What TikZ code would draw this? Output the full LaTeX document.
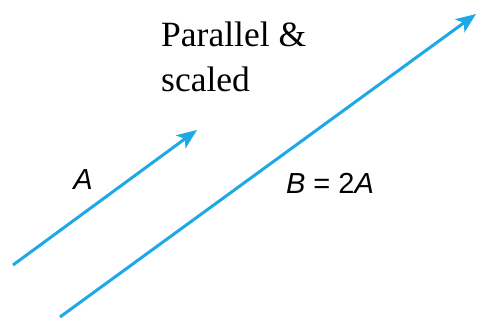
\documentclass[tikz,border=0pt]{standalone}
\usepackage{fontspec}
\setmainfont{Liberation Serif}
\newfontfamily\vecfont{Liberation Sans}
\usetikzlibrary{arrows.meta}
\definecolor{cVec}{HTML}{1DA9E6}
\tikzset{
    x=1pt, y=-1pt,
    vec/.style={-{Stealth[length=20pt, width=16pt, inset=5pt]}, line width=3pt, cVec},
    captxt/.style={font=\fontsize{35.5}{45}\selectfont, inner sep=0pt, anchor=base west},
    veclbl/.style={font=\vecfont\fontsize{29}{34}\selectfont, inner sep=0pt},
}

\begin{document}
\begin{tikzpicture}
    \useasboundingbox (0,0) rectangle (477,321);

    \coordinate (aTail) at (13,265);
    \coordinate (aHead) at (197,130);
    \coordinate (bTail) at (60,317);
    \coordinate (bHead) at (476,14);

    \draw[vec] (aTail) -- (aHead);
    \draw[vec] (bTail) -- (bHead);

    \node[veclbl] (aLbl) at (83,180) {\itshape A};
    \node[veclbl] (bLbl) at (330,183) {\itshape B\upshape{} = 2\itshape A};

    \node[captxt] (capOne) at (161,47) {Parallel \&};
    \node[captxt] (capTwo) at (161,92) {scaled};
\end{tikzpicture}
\end{document}
